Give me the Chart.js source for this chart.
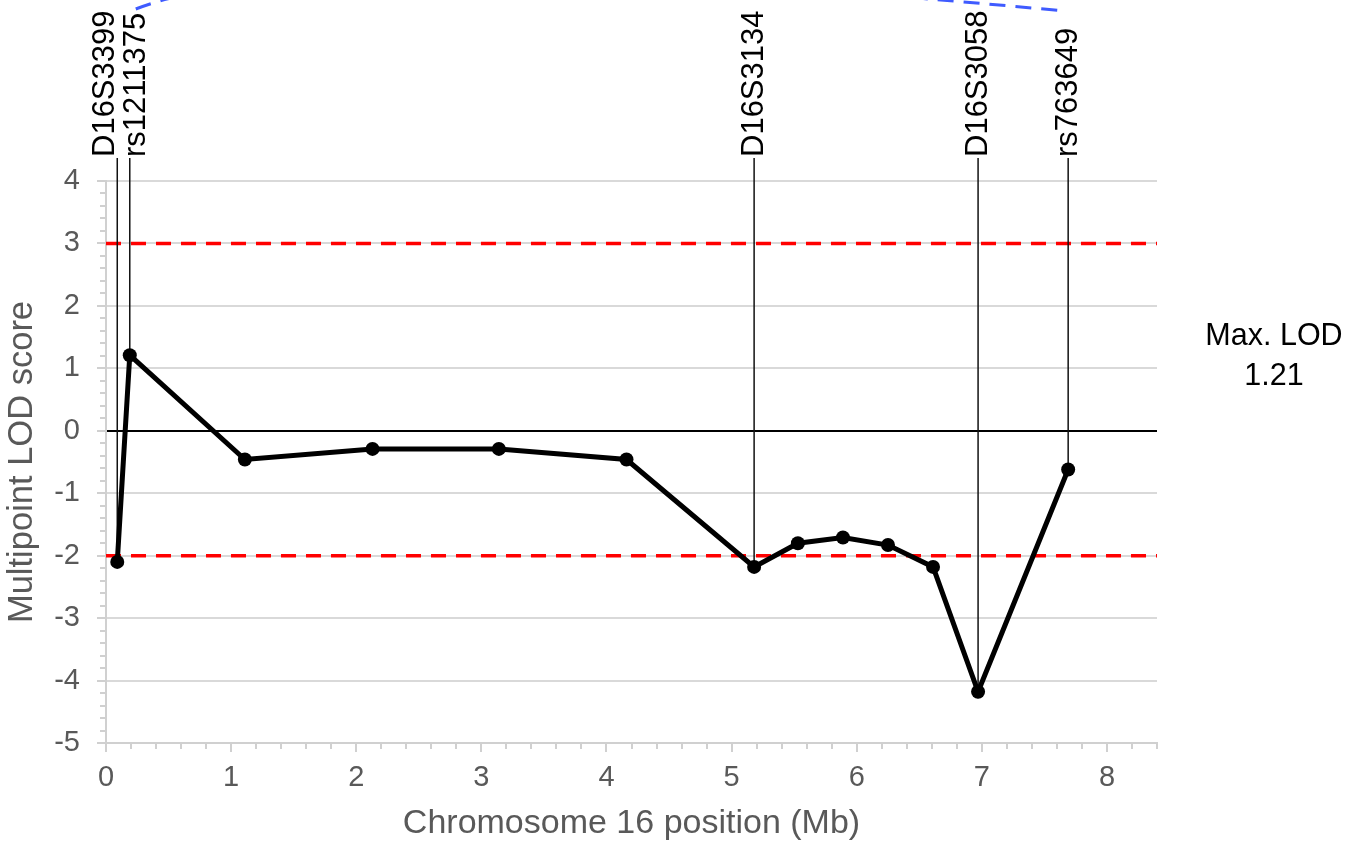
<!DOCTYPE html>
<html>
<head>
<meta charset="utf-8">
<script src="https://cdn.jsdelivr.net/npm/chart.js@4.4.1/dist/chart.umd.min.js"></script>
<style>
    body { margin: 0; background: #fff; }
    canvas { display: block; }
</style>
</head>
<body>
<canvas id="grafico" width="1366" height="852"></canvas>
<script>
// posição (Mb) e LOD multiponto de cada ponto da curva
const posicao = [0.09, 0.19, 1.11, 2.13, 3.14, 4.16, 5.18, 5.53, 5.89, 6.25, 6.61, 6.97, 7.69]
const lod = [-2.10, 1.21, -0.46, -0.29, -0.29, -0.46, -2.18, -1.80, -1.71, -1.83, -2.18, -4.18, -0.62]

// marcadores rotulados no topo (índice do ponto correspondente)
const marcadores = ['D16S3399', 'rs1211375', 'D16S3134', 'D16S3058', 'rs763649']
const marcadorIdx = [0, 1, 6, 11, 12]
const deslocRotulo = [-12, 7, 0, 0, 0]

// limiares de ligação / exclusão
const limiares = [3, -2]

const FONTE = "'Liberation Sans', Arial, sans-serif"

const extras = {
    id: 'extras',
    beforeDatasetsDraw(chart) {
        const ctx = chart.ctx
        const sx = chart.scales.x
        const sy = chart.scales.y
        const area = chart.chartArea
        ctx.save()

        // ticks menores a cada 0.2
        ctx.strokeStyle = '#d0d0d0'
        ctx.lineWidth = 2
        ctx.beginPath()
        for (let i = 1; i <= 42; i++) {
            if (i % 5 === 0) continue
            const px = Math.round(sx.getPixelForValue(i / 5))
            ctx.moveTo(px, area.bottom)
            ctx.lineTo(px, area.bottom + 6)
        }
        for (let i = -24; i < 20; i++) {
            if (i % 5 === 0) continue
            const py = Math.round(sy.getPixelForValue(i / 5))
            ctx.moveTo(area.left - 6, py)
            ctx.lineTo(area.left, py)
        }
        ctx.stroke()

        // linhas tracejadas vermelhas
        ctx.strokeStyle = '#ff0000'
        ctx.lineWidth = 3.5
        ctx.setLineDash([15, 10])
        limiares.forEach(v => {
            const py = sy.getPixelForValue(v)
            ctx.beginPath()
            ctx.moveTo(area.left, py)
            ctx.lineTo(area.right, py)
            ctx.stroke()
        })
        ctx.setLineDash([])

        // linhas verticais dos marcadores + rótulos
        ctx.strokeStyle = '#111'
        ctx.lineWidth = 1.5
        ctx.fillStyle = '#000'
        ctx.font = '31px ' + FONTE
        marcadores.forEach((nome, k) => {
            const i = marcadorIdx[k]
            const px = sx.getPixelForValue(posicao[i])
            ctx.beginPath()
            ctx.moveTo(px, 158)
            ctx.lineTo(px, sy.getPixelForValue(lod[i]))
            ctx.stroke()

            ctx.save()
            ctx.translate(px + deslocRotulo[k], 157)
            ctx.rotate(-Math.PI / 2)
            ctx.textAlign = 'left'
            ctx.textBaseline = 'middle'
            ctx.fillText(nome, 0, 0)
            ctx.restore()
        })
        ctx.restore()
    },
    afterDraw(chart) {
        const ctx = chart.ctx
        const sx = chart.scales.x
        ctx.save()

        // arco azul entre rs1211375 e rs763649
        const x0 = sx.getPixelForValue(posicao[marcadorIdx[1]]) + 6
        const x1 = sx.getPixelForValue(posicao[marcadorIdx[4]]) - 4
        ctx.strokeStyle = '#3f5bff'
        ctx.lineWidth = 3
        ctx.setLineDash([16, 10])
        ctx.beginPath()
        ctx.moveTo(x0, 9)
        ctx.quadraticCurveTo(x0 + 0.19 * (x1 - x0), -60, x1, 11)
        ctx.stroke()
        ctx.setLineDash([])

        // LOD máximo à direita
        ctx.fillStyle = '#000'
        ctx.font = '30.5px ' + FONTE
        ctx.textAlign = 'center'
        ctx.textBaseline = 'alphabetic'
        ctx.fillText('Max. LOD', 1274, 345)
        ctx.fillText(Math.max(...lod).toFixed(2), 1274, 385)
        ctx.restore()
    }
}

function criarGraf() {
    const ctx = document.getElementById('grafico').getContext('2d')
    const pontos = posicao.map((p, i) => ({ x: p, y: lod[i] }))

    new Chart(ctx, {
        type: 'scatter',
        data: {
            datasets: [{
                data: pontos,
                showLine: true,
                borderColor: '#000',
                backgroundColor: '#000',
                borderWidth: 5,
                pointRadius: 7,
                pointBorderWidth: 0,
                tension: 0
            }]
        },
        options: {
            responsive: false,
            animation: false,
            layout: { padding: { top: 181, right: 209, left: 0, bottom: 0 } },
            plugins: {
                legend: { display: false },
                tooltip: { enabled: false }
            },
            scales: {
                x: {
                    type: 'linear',
                    min: 0,
                    max: 8.4,
                    afterFit: s => { s.height = 109 },
                    ticks: {
                        stepSize: 1,
                        includeBounds: false,
                        padding: 9,
                        maxRotation: 0,
                        color: '#595959',
                        font: { family: FONTE, size: 29 }
                    },
                    grid: {
                        drawOnChartArea: false,
                        tickLength: 9,
                        tickColor: '#d0d0d0',
                        lineWidth: 2
                    },
                    border: { color: '#d0d0d0', width: 2 },
                    title: {
                        display: true,
                        text: 'Chromosome 16 position (Mb)',
                        color: '#595959',
                        font: { family: FONTE, size: 34 },
                        padding: { top: 0, bottom: 8 }
                    }
                },
                y: {
                    min: -5,
                    max: 4,
                    afterFit: s => { s.width = 106 },
                    ticks: {
                        stepSize: 1,
                        padding: 17,
                        color: '#595959',
                        font: { family: FONTE, size: 29 }
                    },
                    grid: {
                        color: c => (c.tick && c.tick.value === 0) ? '#000' : '#d9d9d9',
                        lineWidth: 2,
                        tickLength: 9,
                        tickColor: '#d0d0d0'
                    },
                    border: { color: '#d0d0d0', width: 2 },
                    title: {
                        display: true,
                        text: 'Multipoint LOD score',
                        color: '#595959',
                        font: { family: FONTE, size: 34.5 },
                        padding: { top: 2, bottom: 0 }
                    }
                }
            }
        },
        plugins: [extras]
    })
}

criarGraf()
</script>
</body>
</html>
